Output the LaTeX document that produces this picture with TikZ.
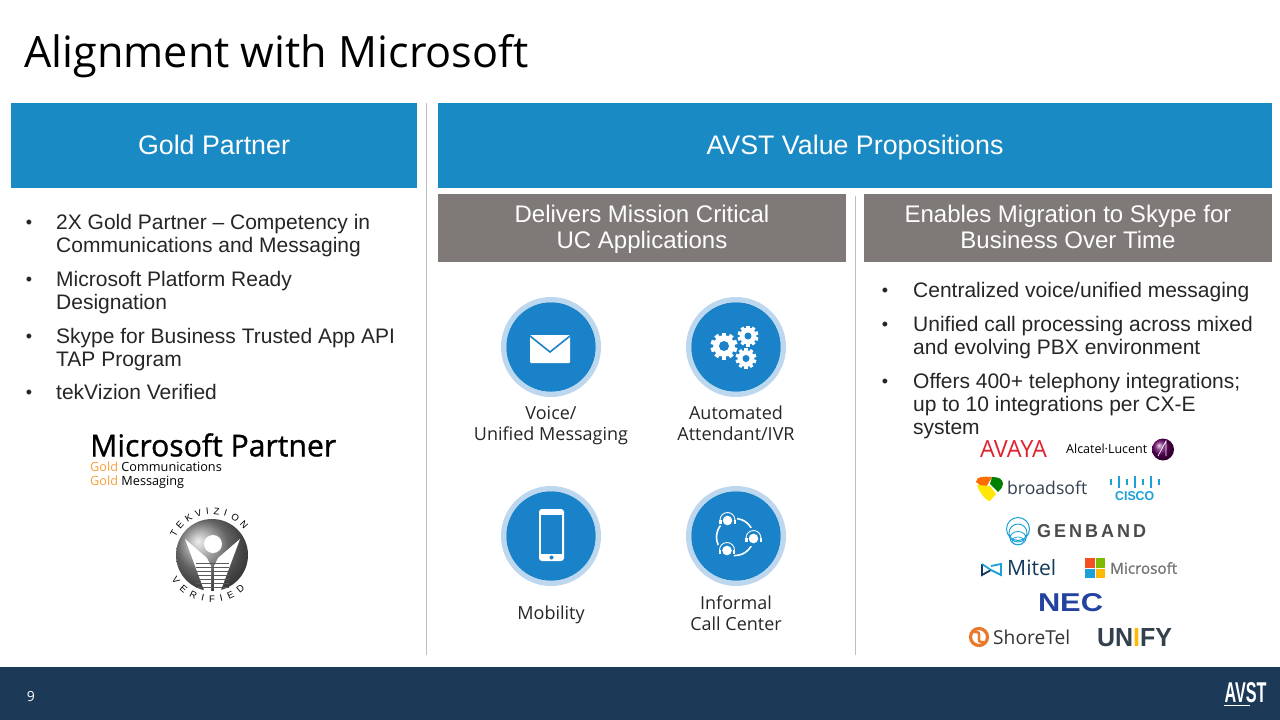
\documentclass[tikz,border=0pt]{standalone}
\usepackage{fontspec}
\setmainfont{Liberation Sans}
\newfontfamily\segoe{Open Sans}
\newfontfamily\segoemed[FakeBold=1]{Open Sans}
\usetikzlibrary{shapes.geometric}
\definecolor{headblue}{HTML}{1A8AC4}
\definecolor{iconblue}{HTML}{1A82C8}
\definecolor{ringblue}{HTML}{BDD7EE}
\definecolor{boxgrey}{HTML}{7F7A78}
\definecolor{footblue}{HTML}{1C3A57}
\definecolor{bodytext}{HTML}{262626}
\definecolor{sepgrey}{HTML}{BFBFBF}
\definecolor{logored}{HTML}{E0222F}
\definecolor{logocyan}{HTML}{1BA0D7}
\definecolor{logodark}{HTML}{33414F}
\definecolor{logonavy}{HTML}{12395B}
\definecolor{necblue}{HTML}{2442A0}
\definecolor{shoreorange}{HTML}{E9782B}
\definecolor{goldorange}{HTML}{F7A03C}
\definecolor{msred}{HTML}{F25022}
\definecolor{msgreen}{HTML}{7FBA00}
\definecolor{msyellow}{HTML}{FFB900}
\tikzset{
    headbox/.style={fill=headblue,text=white,minimum height=85pt,text height=21pt,text depth=4pt,font=\fontsize{26.8}{32}\selectfont},
    subbox/.style={fill=boxgrey,minimum height=68pt,minimum width=408pt},
    subtext/.style={text=white,align=center,inner sep=0pt,font=\fontsize{24}{26}\selectfont},
    bullet/.style={anchor=center,text=bodytext,font=\fontsize{18}{23}\selectfont},
    item/.style={anchor=north west,align=left,inner sep=0pt,text=bodytext,font=\fontsize{21}{23}\selectfont},
    caption/.style={align=center,inner sep=0pt,text=black!85,font=\segoe\fontsize{18}{19.5}\selectfont},
    logo/.style={inner sep=0pt},
    sepline/.style={sepgrey,line width=1pt},
}
\newcommand{\fitw}[2]{\resizebox{#1pt}{!}{#2}}
\newcommand{\iconring}[3]{
    \node[circle,draw=ringblue,line width=5pt,minimum size=95pt,inner sep=0pt] (#3ring) at (#1,#2) {};
    \node[circle,fill=iconblue,minimum size=89.5pt,inner sep=0pt] (#3disc) at (#1,#2) {};
}
\newcommand{\cogwheel}[4]{
    \foreach \a in {0,36,...,324}
        \fill[white,rotate around={\a:(#1,#2)}] (#1-#3*0.16,#2) rectangle (#1+#3*0.16,#2-#3);
    \fill[white] (#1,#2) circle (#3*0.8);
    \fill[iconblue] (#1,#2) circle (#4);
}
\newcommand{\agenthead}[2]{
    \fill[iconblue] (#1,#2) circle (9.5);
    \fill[white] (#1,#2+1.5) circle (4.8);
    \draw[white,line width=0.9pt] (#1-7.5,#2+1) arc (180:360:7.5);
    \fill[white] (#1-8.2,#2+1) rectangle (#1-6,#2+5);
    \fill[white] (#1+6,#2+1) rectangle (#1+8.2,#2+5);
}
\begin{document}
\begin{tikzpicture}[x=1pt,y=-1pt]
    \useasboundingbox (0,0) rectangle (1280,720);
    \fill[white] (0,0) rectangle (1280,720);
    \node[anchor=base west,inner sep=0pt,font=\segoe\fontsize{43.2}{48}\selectfont] (title) at (24,67) {Alignment with Microsoft};
    \node[headbox,minimum width=406pt] (gold) at (214,145.5) {Gold Partner};
    \node[headbox,minimum width=834pt] (value) at (855,145.5) {AVST Value Propositions};
    \node[subbox] (deliver) at (642,228) {};
    \node[subbox] (enable) at (1068,228) {};
    \node[subtext] (delivertext) at (642,230) {\strut Delivers Mission Critical\\UC Applications\strut};
    \node[subtext] (enabletext) at (1068,230) {\strut Enables Migration to Skype for\\Business Over Time\strut};
    \draw[sepline] (426.5,103) -- (426.5,655);
    \draw[sepline] (855.5,196) -- (855.5,655);

    \node[bullet] (ba) at (29,224) {•};
    \node[item] (ia) at (56,214) {2X Gold Partner – Competency in\\Communications and Messaging};
    \node[bullet] (bb) at (29,281) {•};
    \node[item] (ib) at (56,271) {Microsoft Platform Ready\\Designation};
    \node[bullet] (bc) at (29,338) {•};
    \node[item] (ic) at (56,328) {Skype for Business Trusted App API\\TAP Program};
    \node[bullet] (bd) at (29,394) {•};
    \node[item] (id) at (56,384) {tekVizion Verified};

    \node[bullet] (be) at (885,292) {•};
    \node[item] (ie) at (913,282) {Centralized voice/unified messaging};
    \node[bullet] (bf) at (885,326) {•};
    \node[item] (if) at (913,316) {Unified call processing across mixed\\and evolving PBX environment};
    \node[bullet] (bg) at (885,383) {•};
    \node[item] (ig) at (913,373) {Offers 400+ telephony integrations;\\up to 10 integrations per CX-E\\system};

    \node[logo,anchor=west] (mspartner) at (90,445) {\fitw{246}{\segoemed Microsoft Partner}};
    \node[logo,anchor=west,font=\segoe\fontsize{12.7}{15}\selectfont] (msgolda) at (90,467) {\textcolor{goldorange}{Gold} Communications};
    \node[logo,anchor=west,font=\segoe\fontsize{12.7}{15}\selectfont] (msgoldb) at (90,482) {\textcolor{goldorange}{Gold} Messaging};

    \shade[ball color=black!45] (212,555) circle (36);
    \fill[white] (213,544) circle (9);
    \fill[white] (185,539) -- (207,558) -- (211,566) -- (211,598) -- (207,598) -- cycle;
    \fill[white] (240,539) -- (218,558) -- (214,566) -- (214,598) -- (218,598) -- cycle;
    \foreach \y in {563,567,...,587}
        \draw[black!65,line width=0.8pt] (196,\y) -- (229,\y);
    \foreach \i/\c/\a in {1/T/150,2/E/137,3/K/122,4/V/108,5/I/96,6/Z/84,7/I/72,8/O/58,9/N/43}
        \node[logo,font=\fontsize{9.5}{9.5}\selectfont,rotate=\a-90] (tek\i) at ({212+44*cos(\a)},{555-44*sin(\a)}) {\c};
    \foreach \i/\c/\a in {1/V/215,2/E/230,3/R/245,4/I/258,5/F/270,6/I/282,7/E/295,8/D/310}
        \node[logo,font=\fontsize{9.5}{9.5}\selectfont,rotate=\a-270] (ver\i) at ({212+44*cos(\a)},{555-44*sin(\a)}) {\c};

    \iconring{551}{347}{voice}
    \iconring{736}{347}{auto}
    \iconring{551}{536}{mobile}
    \iconring{736}{536}{call}
    \fill[white,rounded corners=1pt] (530,335) rectangle (570,363);
    \draw[iconblue,line width=1.6pt] (530,336) -- (550,352) -- (570,336);
    \cogwheel{724}{346}{13.5}{5}
    \cogwheel{748}{336}{10.5}{3.5}
    \cogwheel{746}{358.5}{10.5}{3.5}
    \fill[white,rounded corners=3pt] (539,509) rectangle (564,561);
    \fill[iconblue] (541,515) rectangle (562,554);
    \fill[iconblue] (551.5,557.5) circle (2);
    \draw[white,line width=1.6pt] (735,537) circle (18.5);
    \agenthead{727.5}{519}
    \agenthead{753.5}{537}
    \agenthead{727}{549}

    \node[caption] (voicecap) at (551,426) {\strut Voice/\\Unified Messaging\strut};
    \node[caption] (autocap) at (736,426) {\strut Automated\\Attendant/IVR\strut};
    \node[caption,text height=13pt,text depth=4pt] (mobilecap) at (551,614.5) {Mobility};
    \node[caption] (callcap) at (736,616) {\strut Informal\\Call Center\strut};

    \node[logo,text=logored,anchor=center] (avaya) at (1013.5,449) {\resizebox{67pt}{17pt}{\segoe AVAYA}};
    \node[logo,anchor=west] (alcatel) at (1066,449) {\fitw{81}{\segoe Alcatel·Lucent}};
    \shade[ball color=violet!80!black] (1163,449.5) circle (11);
    \draw[white,line width=0.7pt] (1158,456) -- (1166,441) -- (1166,456);

    \fill[orange!85!red] (976,482) .. controls (976,476) and (984,476.5) .. (992,477) -- (985,489) -- cycle;
    \fill[green!50!black] (992,477) .. controls (999,477) and (1003,479) .. (1003,484) .. controls (1003,487) and (1001,489) .. (998,492) -- (990,484) -- cycle;
    \fill[yellow!90!orange] (977,485) -- (990,486) -- (996,494) -- (990,501) .. controls (986,501) and (979,492) .. (977,485) -- cycle;
    \node[logo,anchor=west,text=logodark] (broadsoft) at (1007,488) {\fitw{80}{\segoe broadsoft}};
    \foreach \x/\h in {0/3,8/6,16/3,24/6,32/3,40/6,48/3}
        \draw[logocyan,line width=1.4pt] (1111+\x,482-\h) -- (1111+\x,482+\h);
    \node[logo,anchor=west,text=logocyan] (cisco) at (1115,496.5) {\resizebox{39pt}{9pt}{\bfseries CISCO}};

    \draw[logocyan,line width=1pt] (1018,529) circle (11.5);
    \draw[logocyan,line width=0.9pt] (1018,533) circle (9);
    \draw[logocyan,line width=0.9pt] (1018,538) ellipse (8 and 6.5);
    \draw[logocyan,line width=0.7pt] (1018,541) ellipse (6 and 4);
    \node[logo,anchor=west,text=black!70] (genband) at (1037,531) {\resizebox{109pt}{13pt}{\bfseries G\,E\,N\,B\,A\,N\,D}};

    \draw[logonavy,line width=1.8pt] (982,564) -- (982,575) -- (991,570);
    \draw[logocyan,line width=1.8pt] (991,566) -- (1001,564) -- (1001,575) -- (991,570) -- (982,564);
    \node[logo,anchor=west,text=logonavy] (mitel) at (1007,568) {\fitw{49}{\segoe Mitel}};
    \fill[msred] (1085,558) rectangle (1094.5,567.5);
    \fill[msgreen] (1095.5,558) rectangle (1105,567.5);
    \fill[logocyan] (1085,568.5) rectangle (1094.5,578);
    \fill[msyellow] (1095.5,568.5) rectangle (1105,578);
    \node[logo,anchor=west,text=black!55] (microsoft) at (1110,568) {\fitw{67}{\segoemed Microsoft}};

    \node[logo,anchor=center,text=necblue] (nec) at (1070.5,603) {\resizebox{65pt}{18pt}{\bfseries NEC}};

    \draw[shoreorange,line width=3.2pt] (979,637) circle (8.5);
    \draw[shoreorange,line width=2.5pt] (974,632) .. controls (985,630) and (973,644) .. (984,642);
    \node[logo,anchor=west,text=black!80] (shoretel) at (993,637) {\fitw{77}{\segoe ShoreTel}};
    \node[logo,anchor=center] (unify) at (1134.5,638) {\resizebox{75pt}{18pt}{\bfseries\textcolor{logodark}{UN}\textcolor{msyellow}{I}\textcolor{logodark}{FY}}};

    \fill[footblue] (0,667) rectangle (1280,720);
    \node[logo,text=white,font=\segoe\fontsize{14}{16}\selectfont] (pagenum) at (31,696) {9};
    \node[logo,text=white] (avst) at (1245.5,693) {\resizebox{42pt}{20pt}{\bfseries AVST}};
    \draw[white,line width=1pt] (1224,705) -- (1250,705);
\end{tikzpicture}
\end{document}
